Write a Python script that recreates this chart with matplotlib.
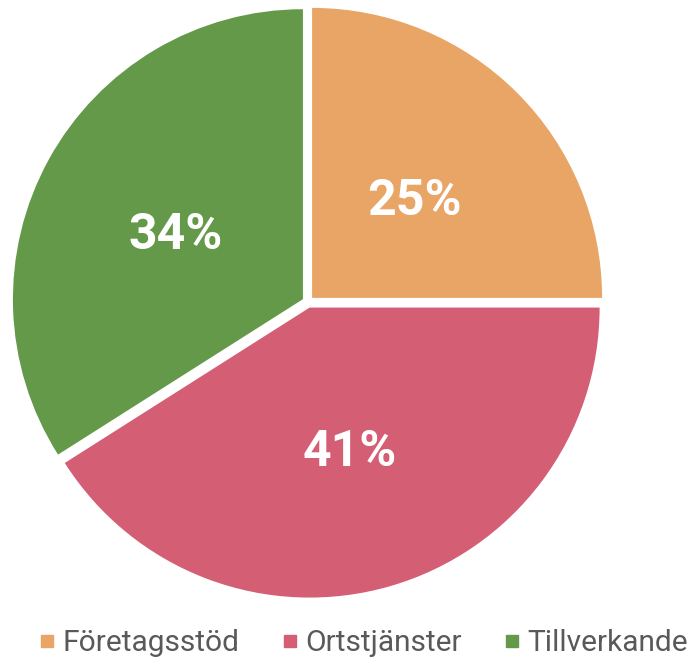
import matplotlib.pyplot as plt
from matplotlib.lines import Line2D

# data
labels = ['Företagsstöd', 'Ortstjänster', 'Tillverkande']
values = [25, 41, 34]
colors = ['#E8A565', '#D45F75', '#65994A']

fig = plt.figure(dpi=100, figsize=[6.9, 6.61])
ax = fig.add_axes([0, 0, 1, 1])

# pie centre at (308, 302) px from top-left, radius 290 px
r_px = 290.0
cx, cy = 308.0, 302.0
wedges, texts, autotexts = ax.pie(values, colors=colors, startangle=90, counterclock=False,
                                  explode=[0.02, 0.02, 0.02], autopct='%1.0f%%', pctdistance=0.5,
                                  wedgeprops=dict(linewidth=0))
for t in autotexts:
    t.set_color('white')
    t.set_fontsize(36)
    t.set_fontweight('bold')
    t.set_fontfamily('Roboto')
    # small nudge down to match the reference
    x, y = t.get_position()
    t.set_position((x, y - 0.02))
ax.set_aspect('auto')
ax.set_xlim(-cx / r_px, (690 - cx) / r_px)
ax.set_ylim(-(661 - cy) / r_px, cy / r_px)
ax.axis('off')

# legend
handles = [Line2D([], [], linestyle='none', marker='s', markersize=8, color=c) for c in colors]
fig.legend(handles, labels, loc='center', bbox_to_anchor=(364.5 / 690, 1 - 643 / 661), ncol=3,
           frameon=False, handlelength=0.4, handletextpad=0.3, columnspacing=1.5,
           prop={'family': 'Roboto', 'size': 21.5}, labelcolor='#595959')

plt.savefig('out.png', format='png')
